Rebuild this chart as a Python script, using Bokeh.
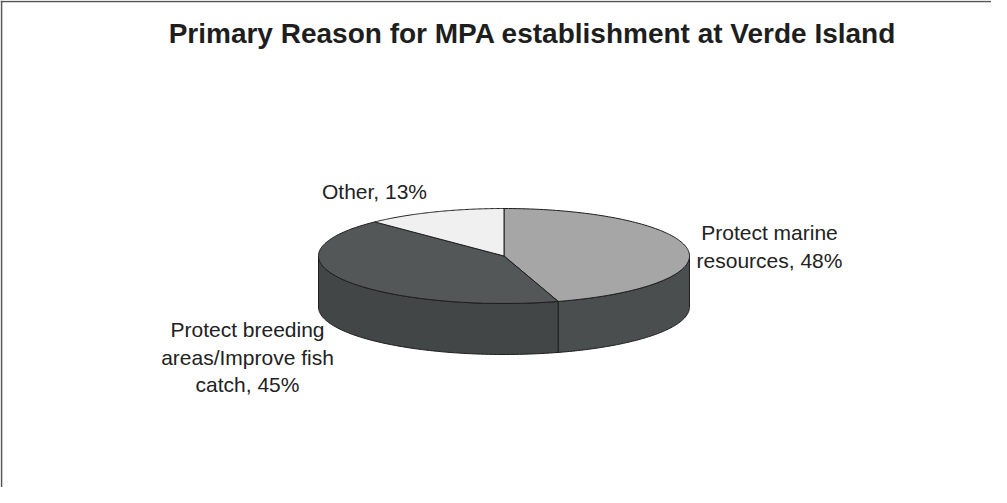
import numpy as np
from bokeh.plotting import figure
from bokeh.models import Range1d
from bokeh.core.properties import value
from bokeh.embed import file_html
from bokeh.resources import INLINE

# ---- data ----
title_text = "Primary Reason for MPA establishment at Verde Island"
categories = ["Protect marine\nresources", "Protect breeding\nareas/Improve fish\ncatch", "Other"]
percents = [48, 45, 13]
label_texts = ["Protect marine\nresources, 48%", "Protect breeding\nareas/Improve fish\ncatch, 45%", "Other, 13%"]

# ---- style / layout ----
top_colors = ["#a6a6a6", "#535757", "#f0f0f0"]
wall_colors = ["#4a4e4e", "#424646", "#d0d0d0"]
label_anchor = [(769, 232), (247, 329), (374, 191)]  # (center x, first baseline y)
W, H = 991, 487
cx, cy, rx, ry, depth = 503.5, 255.5, 185.5, 47.5, 51
FONT = "Liberation Sans"

p = figure(width=W, height=H, output_backend="svg", toolbar_location=None,
           x_range=Range1d(0, W), y_range=Range1d(H, 0),
           min_border=0, min_border_left=0, min_border_right=0,
           min_border_top=0, min_border_bottom=0)
p.axis.visible = False
p.grid.visible = False
p.outline_line_color = None
p.background_fill_color = "white"
p.border_fill_color = "white"

# frame lines (top & left)
p.segment(x0=[0, 1], y0=[1, 0], x1=[W, 1], y1=[1, H], line_color="#555555", line_width=1.6)

vals = np.array(percents, dtype=float)
fr = vals / vals.sum()
ends = np.cumsum(fr) * 2 * np.pi
starts = np.concatenate([[0.0], ends[:-1]])


def pt(th, dy=0.0):
    return cx + rx * np.sin(th), cy - ry * np.cos(th) + dy

# walls (front half: theta in [pi/2, 3pi/2])
wx, wy, wc = [], [], []
for a, b, c in zip(starts, ends, wall_colors):
    lo, hi = max(a, np.pi / 2), min(b, 3 * np.pi / 2)
    if hi > lo:
        th = np.linspace(lo, hi, 80)
        tx, ty = pt(th)
        bx, by = pt(th[::-1], depth)
        wx.append(list(tx) + list(bx))
        wy.append(list(ty) + list(by))
        wc.append(c)
p.patches(wx, wy, fill_color=wc, line_color="#1e1e1e", line_width=1)

# top faces
fx, fy = [], []
for a, b in zip(starts, ends):
    th = np.linspace(a, b, 120)
    tx, ty = pt(th)
    fx.append([cx] + list(tx))
    fy.append([cy] + list(ty))
p.patches(fx, fy, fill_color=top_colors, line_color="#1e1e1e", line_width=1)

# title
p.text(x=[532], y=[33], text=[title_text], text_font=value(FONT),
       text_font_style="bold", text_font_size="28px", text_color="#1e1e1e",
       text_align="center", text_baseline="alphabetic")

# labels
lx, ly, lt = [], [], []
for (ax, ay), s in zip(label_anchor, label_texts):
    for i, line in enumerate(s.split("\n")):
        lx.append(ax)
        ly.append(ay + i * 27.5)
        lt.append(line)
p.text(x=lx, y=ly, text=lt, text_font=value(FONT), text_font_size="21px",
       text_color="#222222", text_align="center", text_baseline="alphabetic")

open("out.html", "w").write(file_html(p, INLINE))
